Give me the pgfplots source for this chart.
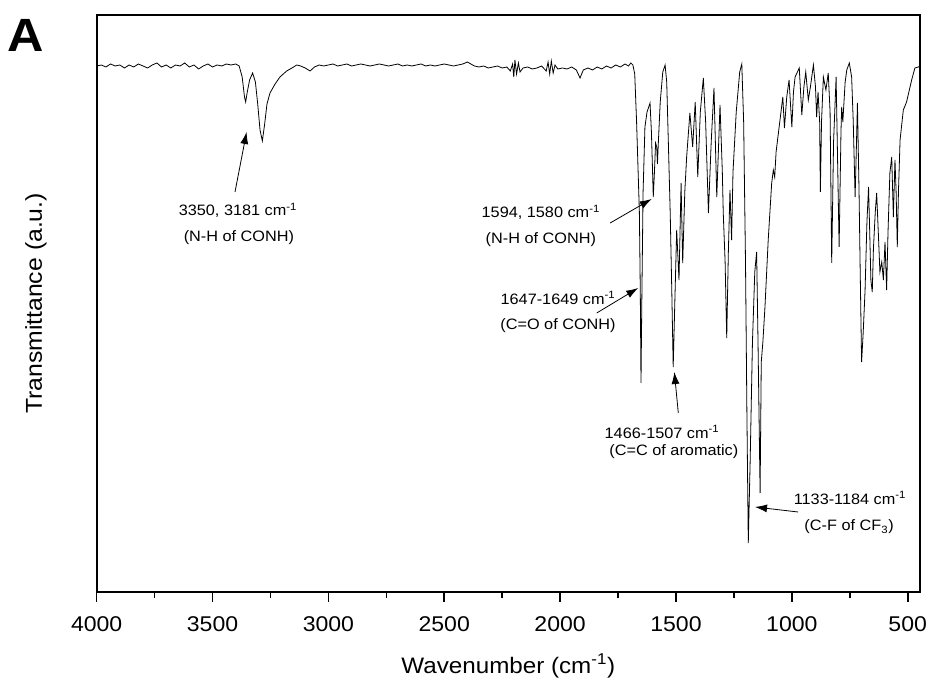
\documentclass[border=0pt]{standalone}
\usepackage{fontspec}
\setmainfont{Liberation Sans}[FakeStretch=1.08]
\usepackage{pgfplots}
\pgfplotsset{compat=1.18}
\usetikzlibrary{arrows.meta}
\pgfplotstableread{
w v
4000 526
3980 527
3960 525
3940 528
3920 526
3900 527
3880 524
3860 527
3840 525
3820 528
3800 526
3780 524
3760 527
3740 529
3720 525
3700 527
3680 524
3660 527
3640 526
3620 529
3600 525
3580 527
3560 523
3540 526
3520 528
3500 525
3480 527
3460 526
3440 528
3420 527
3400 528
3385 526
3372 515
3362 495
3357 490
3350 500
3340 512
3327 519
3315 510
3305 488
3295 462
3285 451
3275 468
3265 488
3252 499
3230 508
3209 515
3180 521
3150 525
3137 527
3120 526
3100 524
3079 521
3060 525
3040 527
3020 526
3000 527
2980 528
2960 526
2940 527
2920 528
2900 526
2880 527
2860 528
2840 527
2820 526
2800 527
2780 528
2760 527
2740 526
2720 527
2700 528
2680 526
2660 527
2640 526
2620 527
2600 528
2580 526
2560 527
2540 526
2520 527
2500 528
2480 527
2460 526
2440 527
2420 528
2400 530
2385 528
2370 526
2350 525
2330 526
2310 524
2290 525
2270 526
2250 524
2230 525
2215 521
2205 528
2200 515
2195 532
2188 518
2180 529
2173 520
2160 524
2140 525
2120 523
2100 524
2080 526
2060 521
2052 530
2045 518
2038 531
2030 519
2022 527
2010 523
1990 524
1970 523
1950 525
1930 522
1914 514
1900 522
1880 524
1860 522
1840 525
1820 523
1800 526
1780 524
1760 527
1740 525
1720 528
1705 526
1695 529
1686 527
1678 518
1670 470
1664 425
1658 380
1654 300
1651 209
1647 300
1642 400
1634 465
1625 480
1612 489
1606 460
1601 420
1598 395
1593 420
1588 449
1583 445
1580 428
1576 450
1568 490
1557 520
1547 527
1540 510
1533 450
1525 380
1518 300
1512 225
1505 290
1497 362
1487 312
1478 409
1471 329
1462 400
1454 435
1440 479
1428 445
1417 490
1406 415
1395 480
1382 514
1372 470
1360 379
1348 450
1336 504
1324 395
1310 487
1300 420
1296 379
1288 330
1281 254
1274 340
1267 402
1260 352
1254 420
1240 480
1225 520
1216 528
1208 470
1200 330
1194 180
1188 49
1180 130
1170 250
1160 320
1152 340
1146 250
1140 150
1137 99
1132 230
1125 250
1116 285
1102 352
1087 409
1080 422
1074 415
1068 440
1058 459
1039 495
1032 464
1022 495
1012 512
1000 465
993 500
986 515
968 524
957 477
948 505
940 520
929 492
920 505
907 527
898 505
893 475
887 500
880 470
877 400
872 470
864 515
853 502
843 519
835 480
828 329
820 450
809 515
796 345
788 460
785 485
780 470
770 510
763 522
752 529
742 515
735 470
727 395
722 440
717 489
710 400
705 320
699 230
692 260
684 302
676 370
669 405
664 360
659 312
653 300
648 343
640 380
634 399
627 360
620 320
612 330
605 312
598 350
591 302
585 360
577 419
569 435
562 375
555 432
550 400
545 345
540 400
533 452
519 482
505 490
495 500
483 512
469 524
454 525
447 526
}\spectrum
\begin{document}
\begin{tikzpicture}[x=1pt,y=1pt,
  annot/.style={font=\fontsize{11.3}{11.3}\selectfont, inner sep=0pt},
  arr/.style={-{Latex[length=9pt,width=6pt]}, line width=0.6pt}]
\path[use as bounding box] (-72.5,-69) rectangle (623.5,444);
\begin{axis}[
  at={(0,0)}, anchor=south west,
  scale only axis, width=617.5pt, height=432.75pt,
  x dir=reverse, xmin=447, xmax=4000, ymin=0, ymax=577,
  xtick={500,1000,...,4000}, minor x tick num=1,
  ytick=\empty,
  xtick pos=left, tick align=outside,
  major tick length=7.5pt, minor tick length=4.5pt,
  axis line style={line width=1.4pt},
  every tick/.style={line width=1.2pt, black},
  xticklabel style={font=\fontsize{16}{16}\selectfont, inner sep=0pt},
  xticklabel shift=11pt,
  /pgf/number format/assume math mode=true,
  /pgf/number format/1000 sep={},
  xlabel={Wavenumber (cm\textsuperscript{-1})},
  xlabel style={font=\fontsize{16.8}{16.8}\selectfont, at={(axis description cs:0.5,-0.141)}, anchor=base, inner sep=0pt},
  ylabel={Transmittance (a.u.)},
  ylabel style={font=\fontsize{17.2}{17.2}\selectfont, at={(axis description cs:-0.0604,0.5)}, anchor=south, inner sep=0pt},
]
\addplot[black, line width=0.6pt] table[x=w, y=v] {\spectrum};
\node[annot] at (axis cs:3390,382) {3350, 3181 cm\textsuperscript{-1}};
\node[annot] at (axis cs:3386,354) {(N-H of CONH)};
\draw[arr] (axis cs:3403,400) -- (axis cs:3353,460);
\node[annot] at (axis cs:2083,380) {1594, 1580 cm\textsuperscript{-1}};
\node[annot] at (axis cs:2083,352) {(N-H of CONH)};
\draw[arr] (axis cs:1784,369) -- (axis cs:1605,393);
\node[annot] at (axis cs:2009,294) {1647-1649 cm\textsuperscript{-1}};
\node[annot] at (axis cs:2009,266) {(C=O of CONH)};
\draw[arr] (axis cs:1842,279) -- (axis cs:1663,304);
\node[annot] at (axis cs:1560,160) {1466-1507 cm\textsuperscript{-1}};
\node[annot] at (axis cs:1509,140) {(C=C of aromatic)};
\draw[arr] (axis cs:1490,179) -- (axis cs:1507,220);
\node[annot] at (axis cs:749,94) {1133-1184 cm\textsuperscript{-1}};
\node[annot] at (axis cs:753,65) {(C-F of CF\textsubscript{3})};
\draw[arr] (axis cs:973,80) -- (axis cs:1159,85);
\end{axis}
\node[anchor=base west, inner sep=0pt, font=\bfseries\fontsize{35}{35}\selectfont] at (-67.3,405) {A};
\end{tikzpicture}
\end{document}
